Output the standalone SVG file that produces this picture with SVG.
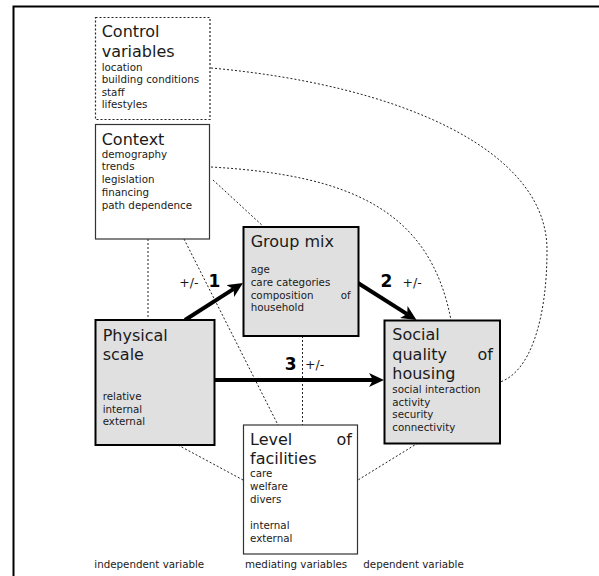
<svg xmlns="http://www.w3.org/2000/svg" width="599" height="576" viewBox="0 0 599 576">
<style>
text{font-family:"DejaVu Sans","Verdana",sans-serif;fill:#1a1a1a}
.t{font-size:16px}
.s{font-size:10.3px}
.n{font-size:17px;font-weight:bold;fill:#000}
.pm{font-size:12.5px}
.box{fill:#fff;stroke:#333;stroke-width:1.2}
.dbox{fill:#fff;stroke:#222;stroke-width:1.2;stroke-dasharray:2,2}
.gbox{fill:#e0e0e0;stroke:#000;stroke-width:2}
.dot{fill:none;stroke:#222;stroke-width:1;stroke-dasharray:2,2}
.arr{stroke:#000;stroke-width:4;fill:none;marker-end:url(#ah)}
</style>
<defs>
<marker id="ah" markerUnits="userSpaceOnUse" markerWidth="15" markerHeight="14" refX="4" refY="7" orient="auto" viewBox="0 0 15 14">
<path d="M0,0 L15,7 L0,14 L4,7 z" fill="#000"/>
</marker>
</defs>
<rect width="599" height="576" fill="#fff"/>
<path d="M13.5,576 V6.5 H599" fill="none" stroke="#000" stroke-width="2"/>

<g id="connectors">
<path class="dot" d="M211,68 C400,85 547,150 547,250 C547,320 530,372 500,382"/>
<path class="dot" d="M211,167 C350,175 430,210 451,320"/>
<line class="dot" x1="213" y1="180" x2="264" y2="227"/>
<line class="dot" x1="148" y1="239" x2="148" y2="320"/>
<line class="dot" x1="184" y1="239" x2="278" y2="425"/>
<line class="dot" x1="302.5" y1="336" x2="302.5" y2="425"/>
<line class="dot" x1="178" y1="445" x2="243" y2="480"/>
<line class="dot" x1="418" y1="443" x2="358" y2="480"/>
<line class="arr" x1="185" y1="320" x2="233.7" y2="288.9"/>
<line class="arr" x1="358" y1="283" x2="407.2" y2="314.1"/>
<line class="arr" x1="214" y1="380" x2="373" y2="380"/>
<text class="n" x="208.5" y="287.3">1</text>
<text class="pm" x="179.3" y="287.3">+/-</text>
<text class="n" x="380.5" y="287.3">2</text>
<text class="pm" x="402.5" y="287.3">+/-</text>
<text class="n" x="284.8" y="370">3</text>
<text class="pm" x="305" y="369.3">+/-</text>
</g>

<g id="control">
<rect class="dbox" x="95.5" y="17.5" width="114.5" height="102"/>
<text class="t" x="101.7" y="37.3">Control</text>
<text class="t" x="101.7" y="56.7">variables</text>
<text class="s" x="101.7" y="70.5">location</text>
<text class="s" x="101.7" y="83.1">building conditions</text>
<text class="s" x="101.7" y="95.7">staff</text>
<text class="s" x="101.7" y="108.3">lifestyles</text>
</g>

<g id="context">
<rect class="box" x="95.5" y="124.5" width="114" height="114.5"/>
<text class="t" x="101.7" y="145">Context</text>
<text class="s" x="101.7" y="157.7">demography</text>
<text class="s" x="101.7" y="170.4">trends</text>
<text class="s" x="101.7" y="183.1">legislation</text>
<text class="s" x="101.7" y="195.8">financing</text>
<text class="s" x="101.7" y="208.5">path dependence</text>
</g>

<g id="groupmix">
<rect class="gbox" x="243.5" y="227" width="115" height="109"/>
<text class="t" x="250.7" y="246.7">Group mix</text>
<text class="s" x="250.7" y="273.3">age</text>
<text class="s" x="250.7" y="286">care categories</text>
<text class="s" x="250.7" y="298.7">composition</text>
<text class="s" x="350.7" y="298.7" text-anchor="end">of</text>
<text class="s" x="250.7" y="311.3">household</text>
</g>

<g id="physical">
<rect class="gbox" x="95.5" y="320" width="119" height="125"/>
<text class="t" x="102.7" y="340.5">Physical</text>
<text class="t" x="102.7" y="360">scale</text>
<text class="s" x="102.7" y="400">relative</text>
<text class="s" x="102.7" y="412.7">internal</text>
<text class="s" x="102.7" y="425.3">external</text>
</g>

<g id="social">
<rect class="gbox" x="384.5" y="320.5" width="115.5" height="123"/>
<text class="t" x="392.3" y="340.3">Social</text>
<text class="t" x="392.3" y="359.6">quality</text>
<text class="t" x="493" y="359.6" text-anchor="end">of</text>
<text class="t" x="392.3" y="379">housing</text>
<text class="s" x="392.3" y="393.3">social interaction</text>
<text class="s" x="392.3" y="405.8">activity</text>
<text class="s" x="392.3" y="418.3">security</text>
<text class="s" x="392.3" y="430.8">connectivity</text>
</g>

<g id="facilities">
<rect class="box" x="243.5" y="425" width="114" height="129"/>
<text class="t" x="250" y="445">Level</text>
<text class="t" x="352" y="445" text-anchor="end">of</text>
<text class="t" x="250" y="464">facilities</text>
<text class="s" x="250" y="476.7">care</text>
<text class="s" x="250" y="489.7">welfare</text>
<text class="s" x="250" y="502.7">divers</text>
<text class="s" x="250" y="529.3">internal</text>
<text class="s" x="250" y="541.9">external</text>
</g>

<g id="labels">
<text class="s" x="94.3" y="568">independent variable</text>
<text class="s" x="245" y="568">mediating variables</text>
<text class="s" x="363.3" y="568">dependent variable</text>
</g>
</svg>
